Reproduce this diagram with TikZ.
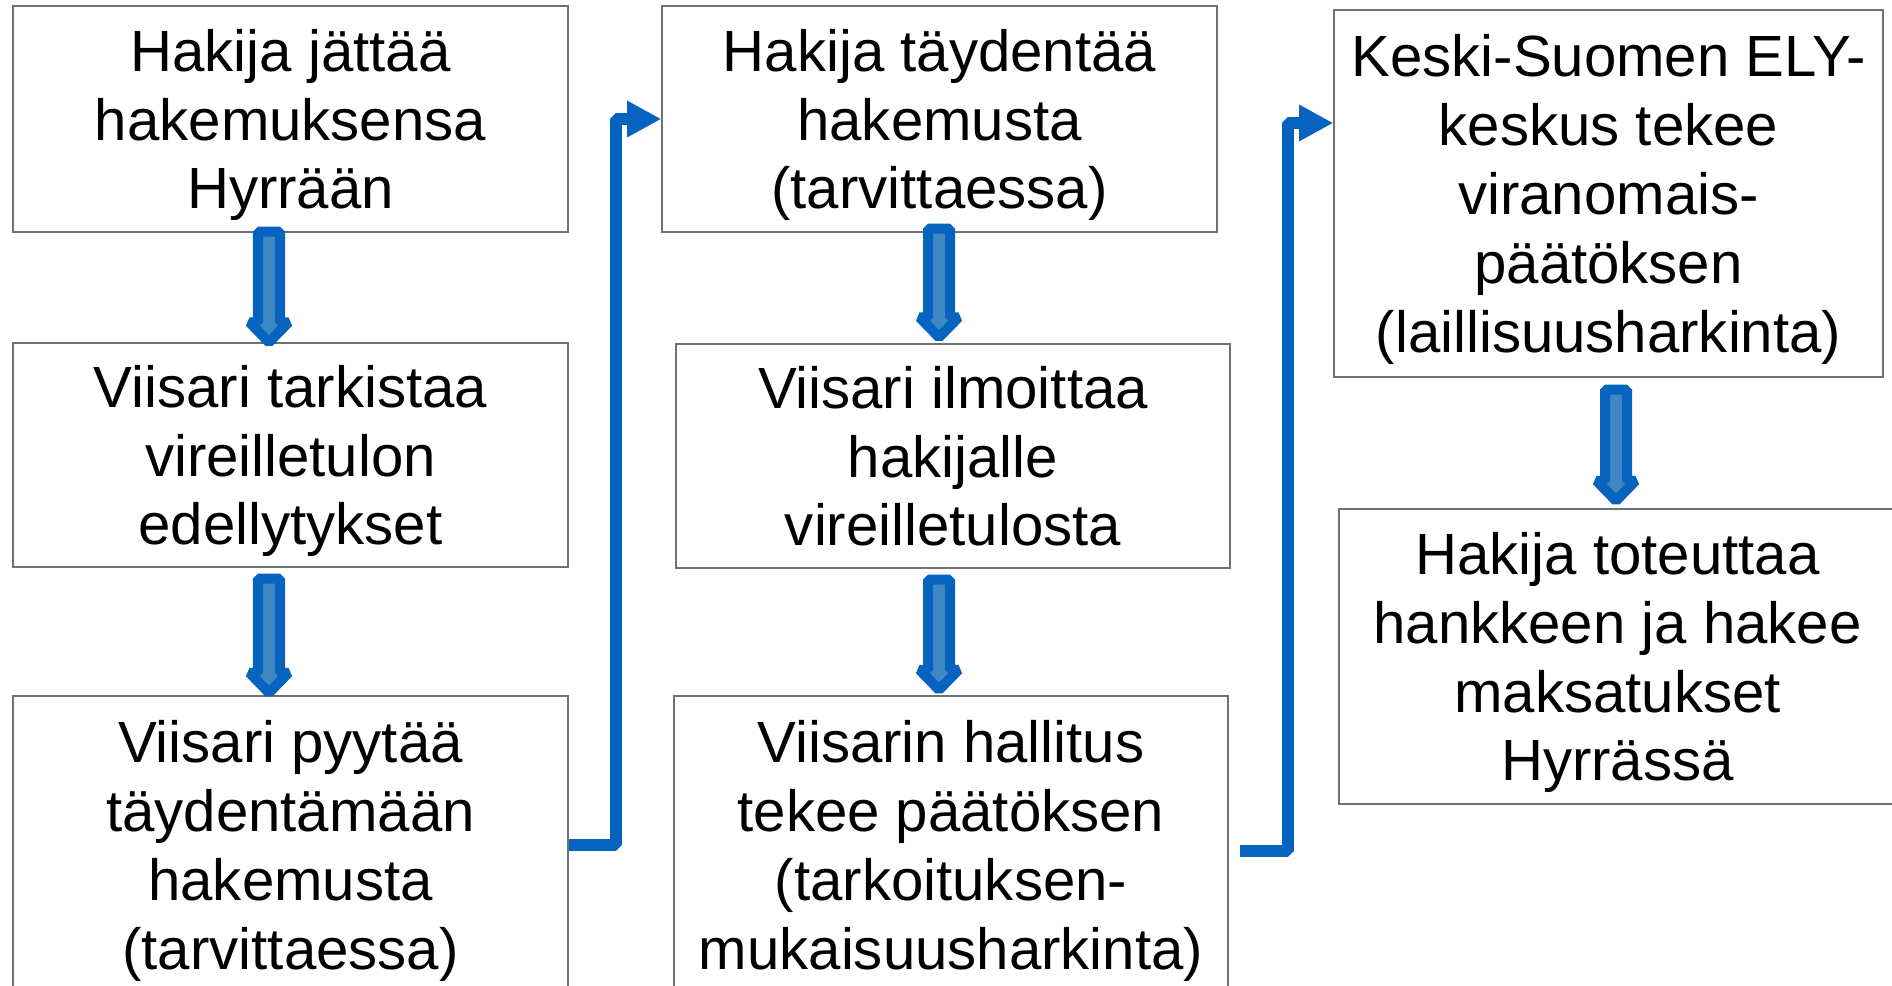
\documentclass[tikz,border=0pt]{standalone}
\usepackage{fontspec}
\setmainfont{Liberation Sans}
\usetikzlibrary{calc}
\usetikzlibrary{arrows.meta}
\usepackage{xcolor}
\definecolor{flowblue}{RGB}{6,99,192}
\definecolor{flowlight}{RGB}{62,136,196}
\definecolor{boxgray}{RGB}{110,114,119}
\newcommand{\ulen}{0.02cm}
\newcommand{\blockarrow}[2]{%
\draw [blockarr] ($(#1)+(-11,0)$) -- ($(#1)+(11,0)$) -- ($(#2)+(11,-20)$) -- ($(#2)+(19.5,-20)$) -- (#2) -- ($(#2)+(-19.5,-20)$) -- ($(#2)+(-11,-20)$) -- cycle;}

\begin{document}
\begin{tikzpicture}[x=0.02cm, y=-0.02cm,
  box/.style={draw=boxgray, line width=0.8pt, fill=white, inner sep=0pt, align=center, font=\fontsize{33.1}{39.2}\selectfont},
  blockarr/.style={draw=flowblue, fill=flowlight, line width=5.7pt, line join=bevel},
  elbow/.style={flowblue, line width=6.8pt, line join=bevel, -{Triangle[length=19.4pt, width=19.4pt]}}]
\useasboundingbox (0,0) rectangle (1892,986);
\clip (0,0) rectangle (1892,986);

\node [box, minimum width=555*\ulen, minimum height=226*\ulen] (a1) at (290.5,119) {Hakija jättää\\hakemuksensa\\\smash{Hyrrään}};
\node [box, minimum width=555*\ulen, minimum height=224*\ulen] (a2) at (290.5,455) {Viisari tarkistaa\\vireilletulon\\\smash{edellytykset}};
\node [box, minimum width=555*\ulen, minimum height=298*\ulen] (a3) at (290.5,845) {Viisari pyytää\\täydentämään\\hakemusta\\\smash{(tarvittaessa)}};

\node [box, minimum width=555*\ulen, minimum height=226*\ulen] (b1) at (939.5,119) {Hakija täydentää\\hakemusta\\\smash{(tarvittaessa)}};
\node [box, minimum width=554*\ulen, minimum height=224*\ulen] (b2) at (953,456) {Viisari ilmoittaa\\hakijalle\\\smash{vireilletulosta}};
\node [box, minimum width=554*\ulen, minimum height=298*\ulen] (b3) at (951,845) {Viisarin hallitus\\tekee päätöksen\\(tarkoituksen-\\\smash{mukaisuusharkinta)}};

\node [box, minimum width=549*\ulen, minimum height=367*\ulen] (c1) at (1608.5,193.5) {Keski-Suomen ELY-\\keskus tekee\\viranomais-\\päätöksen\\\smash{(laillisuusharkinta)}};
\node [box, minimum width=557*\ulen, minimum height=295*\ulen] (c2) at (1617.5,656.5) {Hakija toteuttaa\\hankkeen ja hakee\\maksatukset\\\smash{Hyrrässä}};

\coordinate (a1out) at ($(a1.south)+(-21.5,-1)$);
\coordinate (a2in) at ($(a2.north)+(-21.5,0)$);
\coordinate (a2out) at ($(a2.south)+(-21.5,11)$);
\coordinate (a3in) at ($(a3.north)+(-21.5,-2.5)$);
\coordinate (b1out) at ($(b1.south)+(-0.5,-4)$);
\coordinate (b2in) at ($(b2.north)+(-14,-6)$);
\coordinate (b2out) at ($(b2.south)+(-14,11)$);
\coordinate (b3in) at ($(b3.north)+(-12,-5.5)$);
\coordinate (c1out) at ($(c1.south)+(7.5,12)$);
\coordinate (c2in) at ($(c2.north)+(-1.5,-7.5)$);

\blockarrow{a1out}{a2in}
\blockarrow{a2out}{a3in}
\blockarrow{b1out}{b2in}
\blockarrow{b2out}{b3in}
\blockarrow{c1out}{c2in}

\coordinate (b3out) at ($(b3.east)+(11,6)$);
\coordinate (c1in) at ($(c1.west)+(0,-70.5)$);
\draw [elbow] (a3.east) -- ++(47,0) |- (b1.west);
\draw [elbow] (b3out) -- ++(48,0) |- (c1in);

\end{tikzpicture}
\end{document}
